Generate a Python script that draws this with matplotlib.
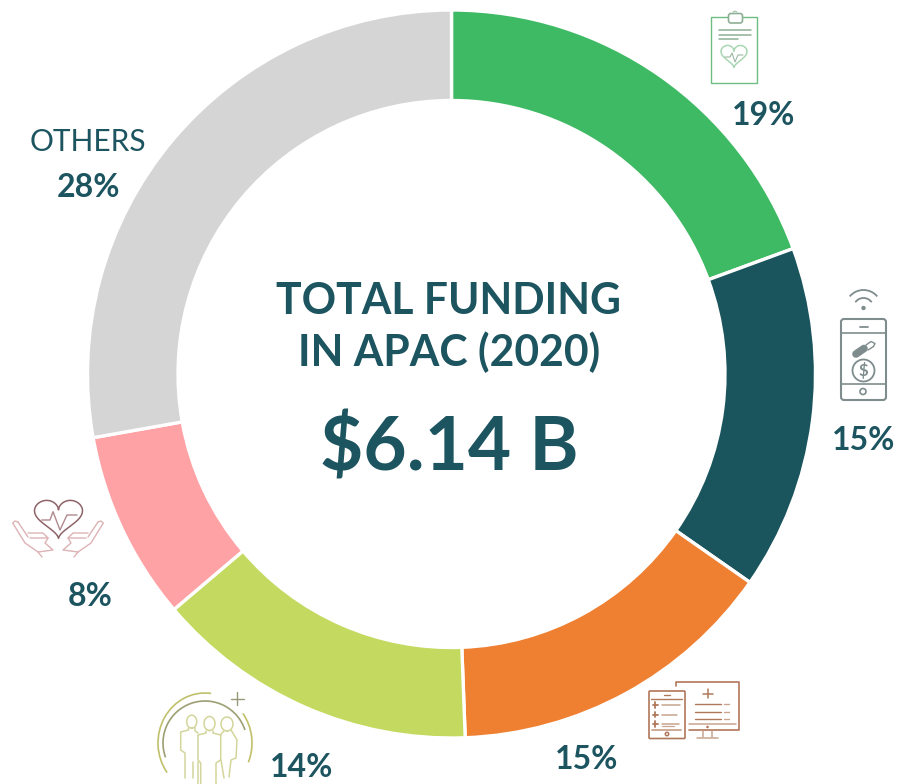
import numpy as np
import matplotlib
matplotlib.use("Agg")
import matplotlib.pyplot as plt
from matplotlib.patches import Circle, Arc, FancyBboxPatch, Rectangle

categories = ["Clinical", "Mobile health", "Health IT", "Population health", "Wellness", "Others"]
shares = [19.4, 15.3, 14.7, 14.4, 8.4, 27.8]
share_labels = ["19%", "15%", "15%", "14%", "8%", "28%"]
colors = ["#3FBA64", "#1A545D", "#EF7F31", "#C3D95F", "#FFA2A5", "#D5D5D5"]
INK = "#1C545F"

plt.rcParams["font.family"] = ["Lato", "Open Sans", "DejaVu Sans"]
fig = plt.figure(figsize=(8.97, 7.84), dpi=100)
ax = fig.add_axes([0, 0, 1, 1])

ax.pie(shares, colors=colors, startangle=-90, counterclock=True, center=(451.5, 374),
       radius=364, frame=True,
       wedgeprops=dict(width=90.5, edgecolor="white", linewidth=2.4))
ax.set_xlim(0, 897)
ax.set_ylim(784, 0)
ax.set_aspect("equal")
ax.axis("off")

def t(x, y, s, size, weight="bold"):
    ax.text(x, y, s, color=INK, fontsize=size, fontweight=weight, ha="center", va="center")

t(448.5, 301, "TOTAL FUNDING", 30.7)
t(449, 352.5, "IN APAC (2020)", 30.7)
t(449.5, 448, "$6.14 B", 53.8)
t(88, 141.5, "OTHERS", 21.5, "normal")
label_pos = [(763.5, 115), (863.5, 440.5), (587, 759.5), (302, 767.5), (90, 596.5), (88, 187.5)]
for (x, y), s in zip(label_pos, share_labels):
    t(x, y, s, 23)

def ln(pts, c, lw=1.0, **kw):
    p = np.array(pts, float)
    ax.plot(p[:, 0], p[:, 1], color=c, lw=lw, solid_capstyle="round", solid_joinstyle="round", **kw)

def heart(cx, cy, w, h, c, lw=1.0):
    s = np.linspace(0, 2 * np.pi, 160)
    x = 16 * np.sin(s) ** 3
    y = 13 * np.cos(s) - 5 * np.cos(2 * s) - 2 * np.cos(3 * s) - np.cos(4 * s)
    ax.plot(cx + x * w / 32, cy - y * h / 29, color=c, lw=lw)

# clipboard icon
G = "#6DBE80"; GD = "#8DAF95"
ax.add_patch(Rectangle((711, 16.5), 45.5, 66, fc="none", ec=G, lw=1.0))
ax.add_patch(FancyBboxPatch((728.5, 13.5), 14, 9.5, boxstyle="round,pad=0,rounding_size=2.5", fc="white", ec=GD, lw=1.2))
ln([(733, 12), (735, 11), (737, 12)], GD, 0.6)
ln([(719, 30), (751, 30)], GD, 1.1)
ln([(719, 34.5), (751, 34.5)], GD, 1.1)
ln([(719, 38.5), (737.5, 38.5)], GD, 1.1)
heart(734, 54.5, 26, 22, "#A9D6B3", 1.1)
ln([(725, 57), (730, 57), (732, 53), (735, 62), (738, 55), (743, 55)], "#9DB8A4", 0.8)

# phone icon
S = "#7F8C8E"
ax.add_patch(FancyBboxPatch((841, 319), 45, 81, boxstyle="round,pad=0,rounding_size=3", fc="none", ec=S, lw=1.5))
ln([(841, 333), (886, 333)], S, 1.2)
ln([(841, 383.5), (886, 383.5)], S, 1.2)
ln([(860, 327), (868, 327)], S, 1.3)
ax.add_patch(Circle((863, 391.5), 3, fc="none", ec=S, lw=1.2))
ax.add_patch(Circle((863.5, 370.5), 11, fc="none", ec=S, lw=1.3))
ax.text(863.5, 370.5, "$", color=S, fontsize=12, fontweight="bold", ha="center", va="center")
ln([(856, 354), (864, 348.5)], S, 5.5)
ln([(866, 345), (871, 341.5), (875, 343.5), (873.5, 346.5), (868, 350)], S, 1.0)
ax.add_patch(Circle((863.5, 308), 2.2, fc=S, ec="none"))
ax.add_patch(Arc((863.5, 308), 20, 20, theta1=-145, theta2=-35, ec=S, lw=1.3))
ax.add_patch(Arc((863.5, 308), 36, 36, theta1=-140, theta2=-40, ec=S, lw=1.3))

# records and monitor icon
O = "#B0785A"; OL = "#C9A48E"
ln([(676, 686), (676, 682), (738.5, 682), (738.5, 730), (689, 730)], O, 1.2)
ax.add_patch(FancyBboxPatch((649, 691), 36, 47.5, boxstyle="round,pad=0,rounding_size=1", fc="none", ec=O, lw=1.2))
ln([(651, 698.5), (682, 698.5)], O, 1.0)
ln([(664, 694.5), (670, 694.5)], O, 1.0)
for y, x1 in [(705, 680), (714.5, 677), (724, 679)]:
    ln([(652.5, y), (658, y)], O, 1.3)
    ln([(655.2, y - 2.8), (655.2, y + 2.8)], O, 1.3)
    ln([(662, y), (x1, y)], OL, 1.1)
ln([(662, 726), (674, 726)], OL, 0.9)
ln([(652, 730), (681, 730)], OL, 1.3)
ax.add_patch(Circle((667, 734), 1.7, fc="none", ec=O, lw=1.1))
ln([(703, 693.5), (713, 693.5)], O, 1.1)
ln([(707.5, 689), (707.5, 698)], O, 1.1)
for y in [704, 711.5, 718.5]:
    ln([(695, y), (721, y)], O, 1.0)
    ln([(724, y), (729, y)], OL, 1.0)
ln([(689, 724), (736, 724)], OL, 1.1)
ax.add_patch(Circle((707.5, 727), 1.3, fc=O, ec="none"))
ln([(703, 731), (703, 737)], OL, 1.1)
ln([(712, 731), (712, 737)], OL, 1.1)
ln([(697, 738), (718, 738)], OL, 1.1)

# people icon
L = "#D3D59A"; LA = "#C0C06A"; LD = "#9D9F74"
ax.add_patch(Arc((205, 743), 94, 100, theta1=142, theta2=277, ec=LA, lw=1.2))
ax.add_patch(Arc((205, 743), 84, 84, theta1=160, theta2=342, ec=LD, lw=1.2))
ax.add_patch(Arc((205, 743), 94, 100, theta1=-38, theta2=24, ec=LA, lw=1.2))
ln([(231, 699), (244, 699)], "#99997A", 1.0)
ln([(237, 692), (237, 705)], "#99997A", 1.0)
a = np.linspace(0, 2 * np.pi, 60)
ax.plot(191.7 + 5 * np.sin(a), 721.7 + 6.5 * np.cos(a), color=L, lw=1.1)
ax.plot(209.5 + 5.5 * np.sin(a), 723.5 + 7 * np.cos(a), color=L, lw=1.1)
ax.plot(227 + 6 * np.sin(a), 724 + 7 * np.cos(a), color=L, lw=1.1)
ln([(188.5, 728), (188.5, 730), (180.7, 732), (180.7, 750), (185, 753), (185, 778)], L, 1.1)
ln([(195, 728), (195, 731), (198, 733)], L, 1.1)
ln([(198, 762), (198, 784)], L, 1.1)
ln([(193, 762), (193, 778)], L, 1.1)
ln([(206, 731), (206, 733), (198, 735), (198, 760), (200.7, 763), (200.7, 784)], L, 1.1)
ln([(213, 731), (213, 733), (220.7, 735), (220.7, 760), (216, 763), (216, 784)], L, 1.1)
ln([(224, 731), (222, 733), (220.7, 735)], L, 1.1)
ln([(231, 730), (237, 740), (236, 758), (231, 760), (229, 777)], L, 1.1)
ln([(221, 760), (224, 778)], L, 1.1)

# hands and heart icon
P = "#8E6468"; PL = "#DDB3B5"
heart(58.5, 516, 48, 38, P, 1.1)
ln([(41.7, 520), (50, 520), (53, 511.7), (60, 530), (67, 515), (77, 515)], "#B08A8E", 1.0)
for sg in (-1, 1):
    X = lambda d: 58 + sg * d
    ln([(X(40), 522), (X(43), 521), (X(45.3), 523), (X(33), 543), (X(20), 552), (X(16), 557)], PL, 1.0)
    ln([(X(40), 522), (X(30), 537)], PL, 1.0)
    ln([(X(30), 533), (X(15), 533), (X(10), 538), (X(28), 538)], PL, 1.0)
    ln([(X(10), 538), (X(13), 543), (X(5), 550), (X(20), 552)], PL, 1.0)

fig.savefig("out.png", dpi=100)
